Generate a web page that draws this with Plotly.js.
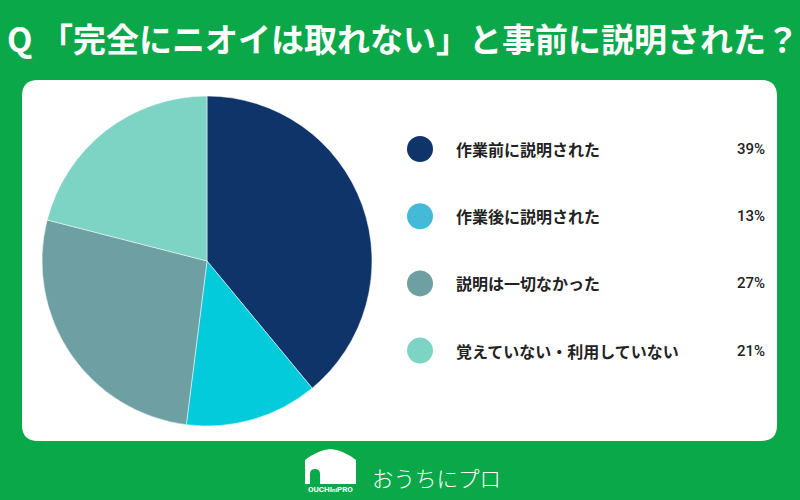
<!DOCTYPE html>
<html>
<head>
<meta charset="utf-8">
<script src="https://cdn.plot.ly/plotly-3.0.1.min.js"></script>
<style>html,body{margin:0;padding:0;background:#0BA84A;}#chart{width:800px;height:500px;}</style>
</head>
<body>
<div id="chart"></div>
<script>
// ---- data ----
const titleText = 'Q 「完全にニオイは取れない」と事前に説明された？';
const categories = ['作業前に説明された', '作業後に説明された', '説明は一切なかった', '覚えていない・利用していない'];
const values = [39, 13, 27, 21];
const pieColors = ['#0F3469', '#03CBDC', '#6D9FA3', '#7DD4C5'];
const legendColors = ['#0F3469', '#45B9D8', '#6D9FA3', '#7DD4C5'];
const brandText = 'おうちにプロ';
const brandSmall = 'OUCHI<span style="font-size:6px">ni</span>PRO';

// ---- helpers (pixel -> paper) ----
const W = 800, H = 500;
const px = x => x / W;
const py = y => 1 - y / H;
function roundRect(x0, y0, x1, y1, r) {
  const P = (x, y) => px(x) + ',' + py(y);
  return 'M' + P(x0 + r, y0) + ' L' + P(x1 - r, y0) + ' Q' + P(x1, y0) + ' ' + P(x1, y0 + r) +
    ' L' + P(x1, y1 - r) + ' Q' + P(x1, y1) + ' ' + P(x1 - r, y1) +
    ' L' + P(x0 + r, y1) + ' Q' + P(x0, y1) + ' ' + P(x0, y1 - r) +
    ' L' + P(x0, y0 + r) + ' Q' + P(x0, y0) + ' ' + P(x0 + r, y0) + ' Z';
}
function housePath() {
  const P = (x, y) => px(x) + ',' + py(y);
  return 'M' + P(305, 484) + ' L' + P(305, 460) + ' Q' + P(318, 450) + ' ' + P(330.5, 449) +
    ' Q' + P(343, 450) + ' ' + P(356, 460) + ' L' + P(356, 484) + ' Z';
}
function doorPath() {
  const P = (x, y) => px(x) + ',' + py(y);
  return 'M' + P(310, 484) + ' L' + P(310, 474) + ' Q' + P(310, 469) + ' ' + P(315, 469) +
    ' Q' + P(320, 469) + ' ' + P(320, 474) + ' L' + P(320, 484) + ' Z';
}

const jp = '"Noto Sans CJK JP", "Noto Sans", sans-serif';

const pie = {
  type: 'pie',
  labels: categories,
  values: values,
  sort: false,
  direction: 'clockwise',
  rotation: 0,
  textinfo: 'none',
  hoverinfo: 'label+percent',
  showlegend: false,
  marker: { colors: pieColors, line: { color: '#ffffff', width: 0.5 } },
  domain: { x: [px(42), px(372)], y: [py(426), py(96)] }
};

const legendMarks = {
  type: 'scatter',
  mode: 'markers',
  x: categories.map(() => 0),
  y: categories,
  marker: { size: 26, color: legendColors },
  hoverinfo: 'skip',
  showlegend: false,
  cliponaxis: false
};

const annotations = [];
categories.forEach((c, i) => {
  annotations.push({
    xref: 'paper', yref: 'y', x: px(454), y: c, xanchor: 'left', yanchor: 'middle',
    text: c, showarrow: false,
    font: { family: jp, size: 16, color: '#222222', weight: 'bold' }
  });
  annotations.push({
    xref: 'paper', yref: 'y', x: px(767), y: c, xanchor: 'right', yanchor: 'middle',
    text: values[i] + '%', showarrow: false,
    font: { family: 'Roboto, sans-serif', size: 15, color: '#222222', weight: 500 }
  });
});
annotations.push({
  xref: 'paper', yref: 'paper', x: px(370), y: py(477), xanchor: 'left', yanchor: 'middle',
  text: brandText, showarrow: false,
  font: { family: jp, size: 21.5, color: '#ffffff', weight: 300 }
});
annotations.push({
  xref: 'paper', yref: 'paper', x: px(330.5), y: py(489), xanchor: 'center', yanchor: 'middle',
  text: brandSmall, showarrow: false,
  font: { family: 'Roboto, sans-serif', size: 8, color: '#ffffff', weight: 'bold' }
});

const layout = {
  width: W, height: H,
  margin: { l: 0, r: 0, t: 0, b: 0 },
  paper_bgcolor: '#0BA84A',
  plot_bgcolor: 'rgba(0,0,0,0)',
  showlegend: false,
  title: {
    text: titleText,
    x: px(7), xanchor: 'left', y: py(40), yanchor: 'middle',
    font: { family: jp, size: 33, color: '#ffffff', weight: 'bold' }
  },
  xaxis: {
    domain: [0, 1], range: [-420, 380], visible: false, fixedrange: true
  },
  yaxis: {
    type: 'category', categoryorder: 'array', categoryarray: categories,
    domain: [py(384.2), py(115.4)], range: [3.5, -0.5], visible: false, fixedrange: true
  },
  shapes: [
    { type: 'path', xref: 'paper', yref: 'paper', path: roundRect(22, 80, 777, 441, 16),
      fillcolor: '#ffffff', line: { width: 0 }, layer: 'below' },
    { type: 'path', xref: 'paper', yref: 'paper', path: housePath(),
      fillcolor: '#ffffff', line: { width: 0 }, layer: 'above' },
    { type: 'path', xref: 'paper', yref: 'paper', path: doorPath(),
      fillcolor: '#0BA84A', line: { width: 0 }, layer: 'above' }
  ],
  annotations: annotations
};

Plotly.newPlot('chart', [pie, legendMarks], layout, { displayModeBar: false, staticPlot: true });
</script>
</body>
</html>
